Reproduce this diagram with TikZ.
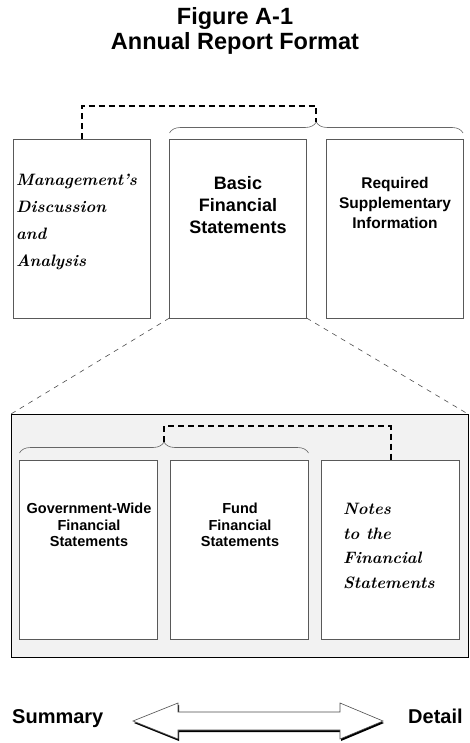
\documentclass[tikz,border=0pt]{standalone}
\usepackage{fontspec}
\setsansfont{Liberation Sans}
\usetikzlibrary{positioning, decorations.pathreplacing, shadows}

\begin{document}
\begin{tikzpicture}[
    x=1pt, y=-1pt,
    panel/.style={rectangle, draw=black!65, line width=0.9pt, fill=white,
        minimum width=137pt, minimum height=179pt, inner sep=0pt, outer sep=0pt},
    subpanel/.style={panel, minimum width=138pt},
    frame/.style={rectangle, draw=black, line width=1pt, fill=black!5,
        minimum width=457pt, minimum height=243pt, inner sep=0pt, outer sep=0pt},
    heading/.style={align=center, inner sep=0pt, font=\sffamily\bfseries\fontsize{18}{22}\selectfont},
    smallheading/.style={align=center, inner sep=0pt, font=\sffamily\bfseries\fontsize{15.5}{20}\selectfont},
    subheading/.style={align=center, inner sep=0pt, font=\sffamily\bfseries\fontsize{14.5}{16.5}\selectfont},
    scripttext/.style={align=left, inner sep=0pt, anchor=north west},
    endlabel/.style={inner sep=0pt, anchor=base west, font=\sffamily\bfseries\fontsize{20}{24}\selectfont},
    mybrace/.style={decorate, decoration={brace, amplitude=11pt}, draw=black!60, line width=0.6pt},
    mylink/.style={draw=black, line width=2pt, dash pattern=on 6pt off 4pt},
    myzoom/.style={draw=black!70, line width=0.6pt, dash pattern=on 5pt off 5pt}
]
\useasboundingbox (0,0) rectangle (470,743);

% Title
\node[align=center, inner sep=0pt, anchor=north, font=\sffamily\bfseries\fontsize{23.5}{25}\selectfont]
    (title) at (235,7) {Figure A-1\\Annual Report Format};

% Nodes
\node[panel] (mda) at (81.5,228.5) {};
\node[panel, right=19.5pt of mda] (bfs) {};
\node[panel, right=19.5pt of bfs] (rsi) {};

\node[frame] (detail) at (239.5,535.5) {};
\node[subpanel] (gov) at (88.5,549.5) {};
\node[subpanel, right=13pt of gov] (fund) {};
\node[subpanel, right=13pt of fund] (notes) {};

% Texts
\node[scripttext, font=\rmfamily\bfseries\itshape\fontsize{16.5}{27}\selectfont] (mdatext) at (16,174)
    {Management's\\Discussion\\and\\Analysis};
\node[heading, anchor=north] (bfstext) at (238,176) {Basic\\Financial\\Statements};
\node[smallheading, anchor=north] (rsitext) at (395,177) {Required\\Supplementary\\Information};
\node[subheading, anchor=north] (govtext) at (89,503) {Government-Wide\\Financial\\Statements};
\node[subheading, anchor=north] (fundtext) at (240,503) {Fund\\Financial\\Statements};
\node[scripttext, font=\rmfamily\bfseries\itshape\fontsize{16.5}{24.5}\selectfont] (notestext) at (343,503)
    {Notes\\to the\\Financial\\Statements};

% Braces
\draw[mybrace] ([yshift=6pt]bfs.north west) -- node[coordinate, above=11pt] (toptip) {} ([yshift=6pt]rsi.north east);
\draw[mybrace] ([yshift=7pt]gov.north west) -- node[coordinate, above=11pt] (bottip) {} ([yshift=7pt]fund.north east);

% Paths
\draw[mylink] (mda.north) -- ++(0,-33) -| (toptip);
\draw[mylink] (bottip) -- ++(0,-16) -| (notes.north);
\draw[myzoom] (bfs.south west) -- (detail.north west);
\draw[myzoom] (bfs.south east) -- (detail.north east);

% Summary to detail
\node[endlabel] (summary) at (12,723) {Summary};
\node[endlabel] (detaillabel) at (408,723) {Detail};
\filldraw[fill=white, draw=black!70, line width=0.6pt,
    drop shadow={shadow xshift=1pt, shadow yshift=-2pt, fill=black, opacity=1}]
    (133,721) -- (178,703) -- (178,712) -- (340,712) -- (340,703) -- (383,721)
    -- (340,739) -- (340,730) -- (178,730) -- (178,739) -- cycle;

\end{tikzpicture}
\end{document}
